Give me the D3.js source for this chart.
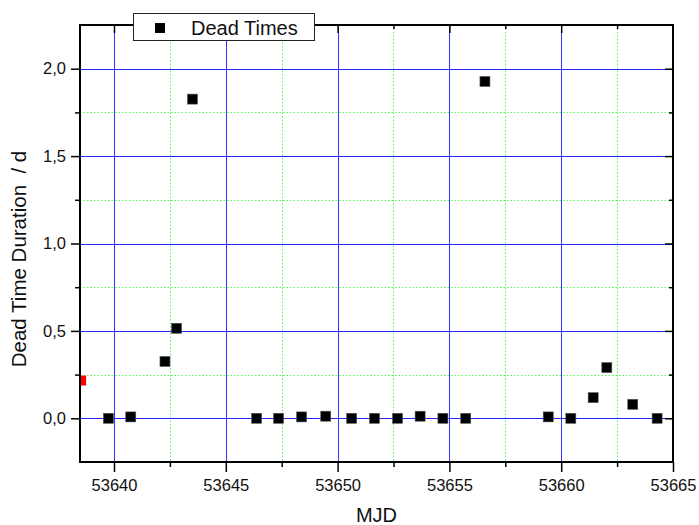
<!DOCTYPE html>
<html>
<head>
<meta charset="utf-8">
<script src="https://cdn.jsdelivr.net/npm/d3@7"></script>
<style>
  html, body { margin: 0; padding: 0; background: #fff; }
  svg { display: block; font-family: "Liberation Sans", Arial, sans-serif; }
</style>
</head>
<body>
<svg id="chart" width="699" height="525"></svg>
<script>
// ---- data ----
const mjd = [53639.75, 53640.75, 53642.28, 53642.80, 53643.51, 53646.38, 53647.36, 53648.39, 53649.47,
             53650.63, 53651.65, 53652.68, 53653.69, 53654.71, 53655.73, 53656.59, 53659.42, 53660.43,
             53661.43, 53662.04, 53663.20, 53664.29];
const duration = [0.0, 0.008, 0.325, 0.515, 1.826, 0.0, 0.0, 0.008, 0.012,
                  0.0, 0.0, 0.0, 0.012, 0.0, 0.0, 1.927, 0.008, 0.0,
                  0.118, 0.29, 0.08, 0.0];
const redMjd = [53638.53];
const redDuration = [0.216];
const xTicks = [53640, 53645, 53650, 53655, 53660, 53665];
const xMinor = [53642.5, 53647.5, 53652.5, 53657.5, 53662.5];
const yTicks = [0.0, 0.5, 1.0, 1.5, 2.0];
const yMinor = [-0.25, 0.25, 0.75, 1.25, 1.75, 2.25];
const seriesName = "Dead Times";
const xTitle = "MJD";
const yTitle = "Dead Time Duration  / d";

// ---- layout ----
const L = 80, R = 673, T = 25, B = 462;
const svg = d3.select("#chart");
const x = d3.scaleLinear().domain([53638.48, 53665]).range([L, R]);
const y = d3.scaleLinear().domain([-0.25, 2.25]).range([B, T]);
const fmt = d => d3.format(".1f")(d).replace(".", ",");
const px = v => Math.round(v) + 0.5;

// grid: minor green dotted
const grid = svg.append("g");
grid.selectAll(".gxm").data(xMinor).join("line")
  .attr("x1", d => px(x(d))).attr("x2", d => px(x(d)))
  .attr("y1", T).attr("y2", B)
  .attr("stroke", "#55f555").attr("stroke-width", 1).attr("stroke-dasharray", "1.5,2");
grid.selectAll(".gym").data(yMinor.filter(d => d > -0.25 && d < 2.25)).join("line")
  .attr("x1", L).attr("x2", R)
  .attr("y1", d => px(y(d))).attr("y2", d => px(y(d)))
  .attr("stroke", "#55f555").attr("stroke-width", 1).attr("stroke-dasharray", "1.5,2");
// grid: major blue
grid.selectAll(".gx").data(xTicks.filter(d => d < 53665)).join("line")
  .attr("x1", d => px(x(d))).attr("x2", d => px(x(d)))
  .attr("y1", T).attr("y2", B)
  .attr("stroke", "#3333ff").attr("stroke-width", 1);
grid.selectAll(".gy").data(yTicks).join("line")
  .attr("x1", L).attr("x2", R)
  .attr("y1", d => px(y(d))).attr("y2", d => px(y(d)))
  .attr("stroke", "#2222ff").attr("stroke-width", 1);

// clip
svg.append("clipPath").attr("id", "clip").append("rect")
  .attr("x", L).attr("y", T).attr("width", R - L).attr("height", B - T);

// points
const S = 10;
const pts = svg.append("g").attr("clip-path", "url(#clip)");
pts.selectAll(".pt").data(mjd.map((m, i) => [m, duration[i]])).join("rect")
  .attr("x", d => x(d[0]) - S / 2).attr("y", d => y(d[1]) - S / 2)
  .attr("width", S).attr("height", S).attr("fill", "#000")
  .attr("stroke", "#555").attr("stroke-width", 0.6);
pts.selectAll(".rp").data(redMjd.map((m, i) => [m, redDuration[i]])).join("rect")
  .attr("x", d => x(d[0]) - S / 2).attr("y", d => y(d[1]) - S / 2)
  .attr("width", S).attr("height", S).attr("fill", "#ff0000");

// axes
const axStyle = g => {
  g.select(".domain").remove();
  g.selectAll("line").attr("stroke", "#000").attr("stroke-width", 1.5);
  g.selectAll("text").attr("font-size", "16.5px").attr("fill", "#111")
    .attr("font-family", "'Liberation Sans', Arial, sans-serif");
};
// bottom
svg.append("g").attr("transform", `translate(0,${B})`)
  .call(d3.axisBottom(x).tickValues(xTicks).tickFormat(d3.format("d")).tickSize(10).tickPadding(7))
  .call(axStyle);
svg.append("g").attr("transform", `translate(0,${B})`)
  .call(d3.axisBottom(x).tickValues(xMinor).tickFormat("").tickSize(5))
  .call(axStyle);
// left
svg.append("g").attr("transform", `translate(${L},0)`)
  .call(d3.axisLeft(y).tickValues(yTicks).tickFormat(fmt).tickSize(9).tickPadding(5))
  .call(axStyle);
svg.append("g").attr("transform", `translate(${L},0)`)
  .call(d3.axisLeft(y).tickValues(yMinor.filter(d => d > -0.25 && d < 2.25)).tickFormat("").tickSize(5))
  .call(axStyle);
// right (inward)
svg.append("g").attr("transform", `translate(${R},0)`)
  .call(d3.axisLeft(y).tickValues(yTicks).tickFormat("").tickSize(8))
  .call(axStyle);
svg.append("g").attr("transform", `translate(${R},0)`)
  .call(d3.axisLeft(y).tickValues(yMinor.filter(d => d > -0.25 && d < 2.25)).tickFormat("").tickSize(4))
  .call(axStyle);
// top (inward)
svg.append("g").attr("transform", `translate(0,${T})`)
  .call(d3.axisBottom(x).tickValues(xTicks.filter(d => d < 53665)).tickFormat("").tickSize(8))
  .call(axStyle);
svg.append("g").attr("transform", `translate(0,${T})`)
  .call(d3.axisBottom(x).tickValues(xMinor).tickFormat("").tickSize(4))
  .call(axStyle);

// frame
svg.append("rect").attr("x", L).attr("y", T).attr("width", R - L).attr("height", B - T)
  .attr("fill", "none").attr("stroke", "#000").attr("stroke-width", 2);

// titles
svg.append("text").attr("x", (L + R) / 2).attr("y", 522).attr("text-anchor", "middle")
  .attr("font-size", "20px").attr("fill", "#111").text(xTitle);
svg.append("text").attr("transform", "translate(26,259) rotate(-90)").attr("text-anchor", "middle")
  .attr("font-size", "20.5px").attr("fill", "#111").style("white-space", "pre").text(yTitle);

// legend
const lg = svg.append("g");
lg.append("rect").attr("x", 133.5).attr("y", 13.5).attr("width", 181).attr("height", 27)
  .attr("fill", "#fff").attr("stroke", "#222").attr("stroke-width", 1);
lg.append("rect").attr("x", 155).attr("y", 23).attr("width", 10).attr("height", 10).attr("fill", "#000");
lg.append("text").attr("x", 191).attr("y", 35).attr("font-size", "20px").attr("fill", "#111").text(seriesName);
</script>
</body>
</html>
